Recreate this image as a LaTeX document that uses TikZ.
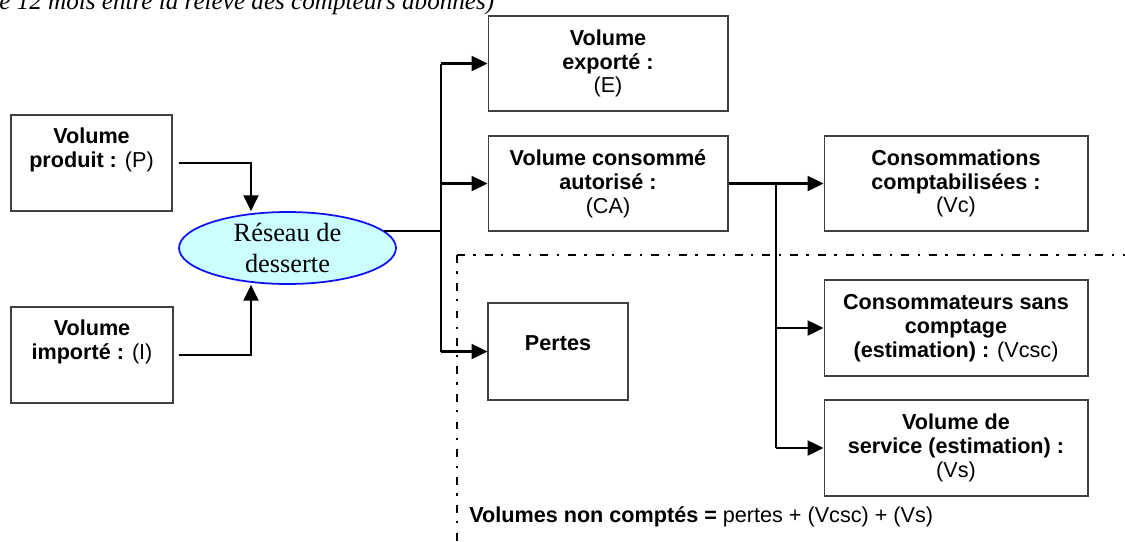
\documentclass[tikz,border=0pt]{standalone}
\usepackage{fontspec}
\setmainfont{Liberation Sans}
\newfontfamily\timesfont{Liberation Serif}
\usepackage{tikz}
\usepackage{xcolor}
\usetikzlibrary{shapes.geometric, arrows.meta, positioning, calc}
\definecolor{BordGris}{HTML}{404040}
\definecolor{CielClair}{HTML}{CCFFFF}
\definecolor{BleuVif}{HTML}{1010F0}

\begin{document}
\begin{tikzpicture}[x=0.02cm, y=-0.02cm,
    boite/.style={rectangle, draw=BordGris, line width=0.6pt, inner sep=0pt,
                  align=center, font=\fontsize{12.3}{13.6}\selectfont\bfseries},
    ligne/.style={line width=1.2pt, draw=black},
    fleche/.style={ligne, -{Triangle[length=9pt, width=8.5pt]}},
    pointille/.style={line width=1.4pt, dash pattern=on 4.5pt off 4.8pt on 1.3pt off 5.2pt}]
    \useasboundingbox (0,0) rectangle (1125,541);

    % Title line, cut at the top
    \node[anchor=base west, inner sep=0pt, font=\fontsize{14.3}{16}\timesfont\itshape]
        (titre) at (-1,10) {e 12 mois entre la relève des compteurs abonnés)};

    % Inputs
    \node[boite, minimum width=3.22cm, minimum height=1.92cm] (P) at (91.5,163)
        {Volume\\produit : \normalfont(P)\\\strut};
    \node[boite, minimum width=3.24cm, minimum height=1.92cm] (I) at (92,355)
        {Volume\\importé : \normalfont(I)\\\strut};

    % Network
    \node[ellipse, draw=BleuVif, line width=1pt, fill=CielClair, inner sep=0pt,
          minimum width=4.34cm, minimum height=1.44cm, align=center,
          font=\fontsize{15}{17.5}\timesfont] (res) at (287.5,248) {Réseau de\\desserte};

    % Outputs of the network
    \node[boite, minimum width=4.8cm, minimum height=1.9cm] (E) at (608,63.5)
        {Volume\\exporté :\\\normalfont(E)};
    \node[boite, minimum width=4.8cm, minimum height=1.9cm] (CA) at (608,183.5)
        {Volume consommé\\autorisé :\\\normalfont(CA)};
    \node[boite, minimum width=2.8cm, minimum height=1.94cm,
          text height=8pt, text depth=9.7pt] (pertes) at (558,351.5) {Pertes};

    % Authorised consumption
    \node[boite, minimum width=5.28cm, minimum height=1.9cm] (Vc) at (956,183.5)
        {Consommations\\comptabilisées :\\\normalfont(Vc)};
    \node[boite, minimum width=5.28cm, minimum height=1.92cm] (Vcsc) at (956,328)
        {Consommateurs sans\\comptage\\(estimation) : \normalfont(Vcsc)};
    \node[boite, minimum width=5.28cm, minimum height=1.92cm] (Vs) at (956,448)
        {Volume de\\service (estimation) :\\\normalfont(Vs)};

    % Unmetered zone
    \coordinate (coin) at (457,255);
    \draw[pointille] (coin) -- (1125,255);
    \draw[pointille] (coin) -- (457,541);
    \node[anchor=base west, inner sep=0pt, font=\fontsize{12.3}{13.6}\selectfont]
        (nc) at (469,522) {\textbf{Volumes non comptés =} pertes + (Vcsc) + (Vs)};

    % Connectors
    \draw[fleche] ($(P.east)+(6,0)$) -| ($(res.north)+(-36.5,0)$);
    \draw[fleche] ($(I.east)+(5,0)$) -| ($(res.south)+(-36.5,0)$);

    \coordinate (tronc) at (441,232);
    \draw[ligne] (res.10) -- (res.10 -| tronc);
    \draw[ligne] (tronc |- E.west) -- (tronc |- pertes.west);
    \draw[fleche] (tronc |- E.west) -- (E.west);
    \draw[fleche] (tronc |- CA.west) -- (CA.west);
    \draw[fleche] (tronc |- pertes.west) -- (pertes.west);

    \coordinate (branche) at (776,183.5);
    \draw[fleche] (CA.east) -- (Vc.west);
    \draw[ligne] (branche) -- (branche |- Vs.west);
    \draw[fleche] (branche |- Vcsc.west) -- (Vcsc.west);
    \draw[fleche] (branche |- Vs.west) -- (Vs.west);
\end{tikzpicture}
\end{document}
